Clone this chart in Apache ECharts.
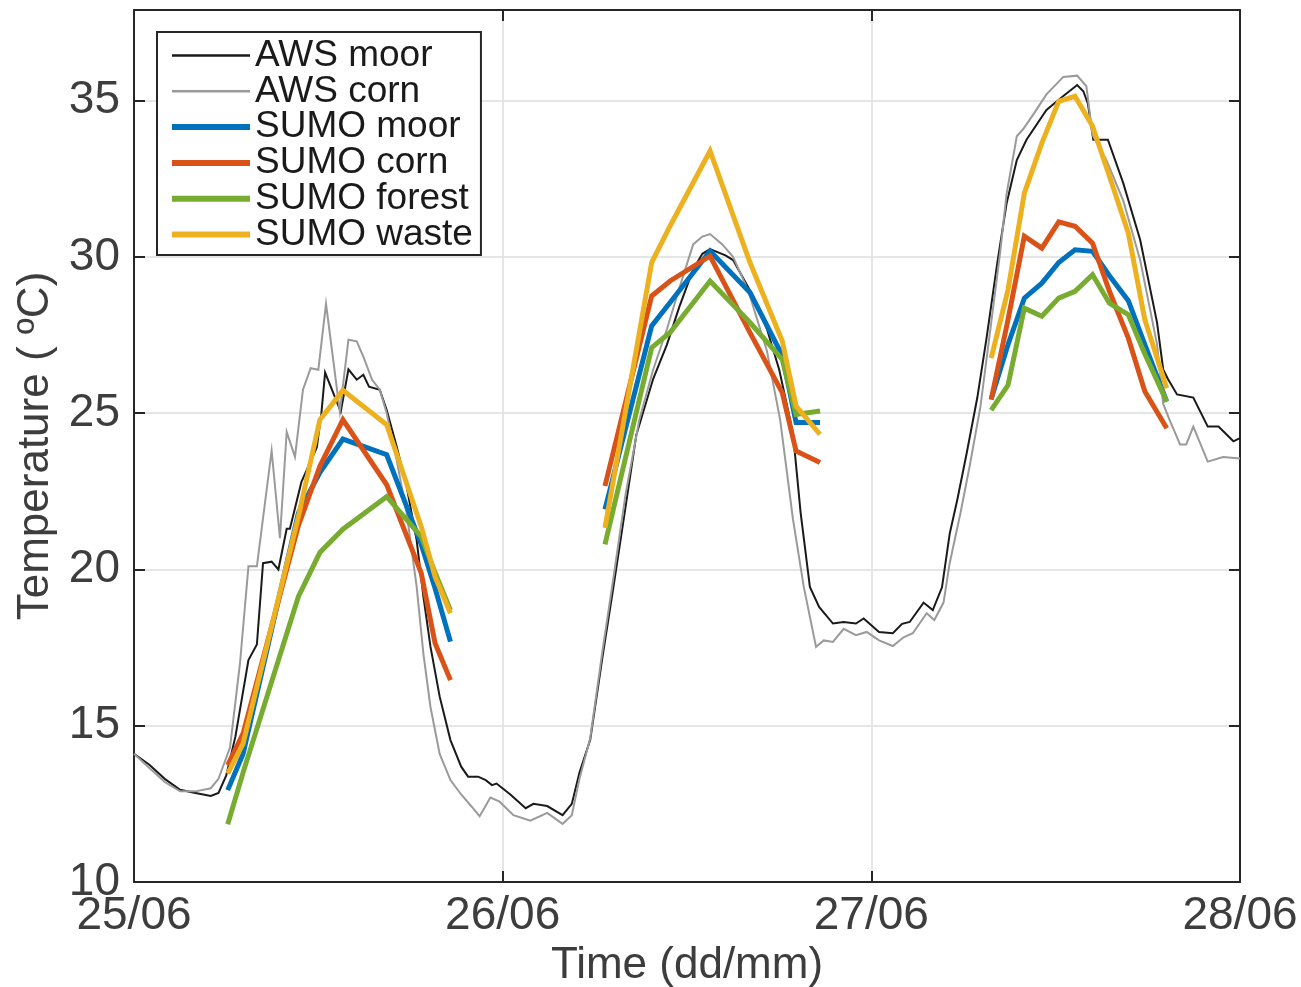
<!DOCTYPE html>
<html><head><meta charset="utf-8">
<script src="https://cdn.jsdelivr.net/npm/echarts@6/dist/echarts.min.js"></script>
<style>html,body{margin:0;padding:0;background:#fff}#c{width:1301px;height:987px}</style>
</head><body><div id="c"></div>
<script>
// x values are hours since 25/06 00:00
const dayLabels = ['25/06', '26/06', '27/06', '28/06'];
const yTicks = [10, 15, 20, 25, 30, 35];

const awsMoorTime = [0,1,2,3,4,5,5.5,6,6.6,7.45,8.0,8.4,8.96,9.4,9.94,10.15,10.9,11.9,12.2,12.44,13.46,13.96,14.5,14.93,15.3,16.0,16.45,17.1,17.75,18.4,18.84,19.3,19.9,20.6,21.3,21.75,22.4,22.9,23.3,23.6,24.5,25.5,26.0,26.9,27.9,28.5,29.0,29.7,30.5,31.2,32.0,32.7,33.8,34.7,35.5,36.4,37.0,37.5,38.5,39.0,40.3,41.2,42.0,42.9,43.4,44.0,44.6,45.5,46.2,47.0,47.5,48.5,49.4,50.0,50.5,51.4,52.0,52.6,53.1,53.6,54.2,54.9,55.5,56.2,56.8,57.47,58.1,59.4,60.5,61.4,61.8,62.1,62.45,63.4,64.4,65.5,66.6,67.0,67.3,67.9,68.96,69.9,70.6,71.57,72.0];
const awsMoorTemp = [14.1,13.75,13.3,12.95,12.85,12.75,12.85,13.4,14.65,17.1,17.6,20.2,20.25,20.0,21.3,21.3,22.8,23.9,25.0,26.3,25.05,26.4,26.07,26.23,25.85,25.75,25.1,23.93,22.65,20.94,19.13,17.53,15.93,14.54,13.69,13.37,13.37,13.26,13.1,13.15,12.8,12.36,12.5,12.43,12.14,12.5,13.5,14.55,17.2,19.4,22.0,24.3,26.1,27.2,28.4,29.6,30.1,30.25,30.05,29.9,28.75,27.7,26.4,24.36,21.8,19.44,18.8,18.27,18.32,18.27,18.43,18.0,17.96,18.26,18.32,18.94,18.7,19.43,21.14,22.24,23.7,25.5,27.4,29.8,31.7,33.1,33.75,34.7,35.15,35.5,35.3,34.9,33.75,33.75,32.36,30.55,27.9,26.4,26.1,25.6,25.5,24.57,24.57,24.1,24.2];

const awsCornTime = [0,1,2,3,4,5,5.5,6.25,6.9,7.45,8.0,8.96,9.5,9.94,10.48,11.0,11.5,12.0,12.5,13.4,13.96,14.5,14.93,15.5,16.0,16.45,17.1,17.75,18.4,18.84,19.3,19.9,20.6,21.3,22.0,22.5,23.2,23.8,24.7,25.8,26.9,27.9,28.5,29.0,29.7,30.5,31.2,32.0,32.9,33.8,34.7,35.5,36.4,37.0,37.5,38.3,39.0,40.0,41.2,42.06,42.9,43.6,44.4,44.9,45.5,46.2,47.0,47.7,48.5,49.4,50.1,50.7,51.6,52.1,52.7,53.1,53.8,54.4,55.1,55.7,56.4,56.8,57.47,57.9,58.6,59.4,60.5,61.4,62.0,62.4,63.3,64.4,65.5,66.6,67.0,67.4,68.1,68.5,68.96,69.9,70.9,72.0];
const awsCornTemp = [14.1,13.65,13.2,12.9,12.9,13.0,13.3,14.3,17.0,20.1,20.1,23.8,21.0,24.4,23.6,25.75,26.44,26.39,28.5,25.05,27.35,27.3,26.81,26.07,25.75,25.0,23.5,21.8,19.45,17.3,15.6,14.1,13.26,12.8,12.4,12.1,12.7,12.57,12.14,11.96,12.21,11.86,12.14,13.3,14.6,17.4,19.7,22.4,24.8,26.4,27.7,29.0,30.4,30.65,30.73,30.4,30.0,28.9,27.0,24.8,21.6,19.45,17.52,17.73,17.68,18.1,17.9,18.0,17.73,17.55,17.83,17.96,18.6,18.38,18.94,20.2,21.8,23.3,25.2,27.5,30.2,32.0,33.86,34.1,34.6,35.2,35.76,35.8,35.46,33.9,33.1,31.8,29.9,27.2,25.3,24.8,24.0,24.0,24.57,23.45,23.6,23.55];

// SUMO model output times for each day
const sumoTimeDay1 = [6.1, 7.1, 10.7, 12.1, 13.6, 16.45, 18.7, 19.6, 20.6];
const sumoTimeDay2 = [30.66, 33.7, 34.9, 37.5, 40.1, 42.2, 43.1, 44.66];
const sumoTimeDay3 = [55.8, 56.9, 57.96, 59.1, 60.2, 61.26, 62.4, 63.5, 64.73, 65.8, 67.23];

const sumoMoorDay1 = [12.94, 14.1, 21.8, 23.1, 24.17, 23.67, 20.8, 19.4, 17.69];
const sumoMoorDay2 = [21.92, 27.79, 28.54, 30.19, 28.86, 26.85, 24.70, 24.70];
const sumoMoorDay3 = [25.45, 27.2, 28.68, 29.16, 29.82, 30.23, 30.18, 29.4, 28.6, 27.2, 25.37];

const sumoCornDay1 = [13.74, 14.75, 21.4, 23.3, 24.79, 22.71, 19.88, 17.64, 16.46];
const sumoCornDay2 = [22.67, 28.75, 29.23, 30.03, 27.58, 25.66, 23.79, 23.42];
const sumoCornDay3 = [25.43, 28.0, 30.66, 30.28, 31.12, 30.98, 30.44, 28.9, 27.4, 25.7, 24.52];

const sumoForestDay1 = [11.85, 13.5, 19.13, 20.54, 21.29, 22.33, 21.05, 19.9, 18.7];
const sumoForestDay2 = [20.8, 27.1, 27.58, 29.23, 27.9, 26.72, 24.96, 25.07];
const sumoForestDay3 = [25.1, 25.9, 28.36, 28.1, 28.68, 28.9, 29.43, 28.52, 28.15, 26.9, 25.37];

const sumoWasteDay1 = [13.47, 14.43, 21.69, 24.79, 25.73, 24.63, 21.37, 19.77, 18.6];
const sumoWasteDay2 = [21.33, 29.82, 30.99, 33.39, 29.82, 27.31, 25.23, 24.32];
const sumoWasteDay3 = [26.76, 28.95, 32.04, 33.64, 34.98, 35.14, 34.18, 32.58, 30.76, 28.0, 25.8];

const zip = (t, v) => t.map((x, i) => [x, v[i]]);
const joinDays = (d1, d2, d3) => [].concat(
  zip(sumoTimeDay1, d1), [[null, null]],
  zip(sumoTimeDay2, d2), [[null, null]],
  zip(sumoTimeDay3, d3));

const FONT = '"Liberation Sans", Arial, Helvetica, sans-serif';
const AX = '#262626';
const TXT = '#3d3d3d';

const mkLine = (name, data, color, width) => ({
  name, type: 'line', data, symbol: 'none', showSymbol: false,
  connectNulls: false, animation: false,
  lineStyle: { color, width, join: 'miter' }, itemStyle: { color }
});

const series = [
  mkLine('AWS moor', zip(awsMoorTime, awsMoorTemp), '#1a1a1a', 2),
  mkLine('AWS corn', zip(awsCornTime, awsCornTemp), '#9a9a9a', 2),
  mkLine('SUMO moor', joinDays(sumoMoorDay1, sumoMoorDay2, sumoMoorDay3), '#0072BD', 5),
  mkLine('SUMO corn', joinDays(sumoCornDay1, sumoCornDay2, sumoCornDay3), '#D95319', 5),
  mkLine('SUMO forest', joinDays(sumoForestDay1, sumoForestDay2, sumoForestDay3), '#77AC30', 5),
  mkLine('SUMO waste', joinDays(sumoWasteDay1, sumoWasteDay2, sumoWasteDay3), '#EDB120', 5)
];

const chart = echarts.init(document.getElementById('c'), null, { renderer: 'canvas' });
chart.setOption({
  backgroundColor: '#fff',
  animation: false,
  textStyle: { fontFamily: FONT },
  grid: { left: 134, right: 61, top: 10, bottom: 105, containLabel: false, outerBoundsMode: 'none' },
  legend: {
    show: true, orient: 'vertical', left: 157, top: 32, z: 10,
    backgroundColor: '#fff', borderColor: AX, borderWidth: 2, borderRadius: 0,
    padding: [5, 8, 2, 12], itemGap: -1.2, itemWidth: 78, itemHeight: 10,
    textStyle: { fontSize: 37, color: '#1a1a1a', fontFamily: FONT },
    itemStyle: { opacity: 0 },
    data: series.map(s => ({ name: s.name, itemStyle: { opacity: 0 }, lineStyle: { width: s.lineStyle.width > 3 ? 6 : 2.5 } })),
    selectedMode: false
  },
  xAxis: [{
    type: 'value', min: 0, max: 72, interval: 24, position: 'bottom',
    axisLine: { show: true, onZero: false, lineStyle: { color: AX, width: 2 } },
    axisTick: { show: true, inside: true, length: 11, lineStyle: { color: AX, width: 2 } },
    axisLabel: { formatter: v => dayLabels[Math.round(v / 24)], fontSize: 46, color: TXT, margin: 11, fontFamily: FONT },
    splitLine: { show: true, lineStyle: { color: '#dedede', width: 1.5 } },
    name: 'Time (dd/mm)', nameLocation: 'middle', nameGap: 48,
    nameTextStyle: { fontSize: 44, color: TXT, fontFamily: FONT }
  }, {
    type: 'value', min: 0, max: 72, interval: 24, position: 'top',
    axisLine: { show: true, onZero: false, lineStyle: { color: AX, width: 2 } },
    axisTick: { show: true, inside: true, length: 11, lineStyle: { color: AX, width: 2 } },
    axisLabel: { show: false }, splitLine: { show: false }
  }],
  yAxis: [{
    type: 'value', min: 10, max: 37.9, interval: 5, position: 'left',
    axisLine: { show: true, onZero: false, lineStyle: { color: AX, width: 2 } },
    axisTick: { show: true, inside: true, length: 11, lineStyle: { color: AX, width: 2 } },
    axisLabel: { formatter: v => (yTicks.indexOf(v) >= 0 ? String(v) : ''), showMaxLabel: false, fontSize: 46, color: TXT, margin: 14, fontFamily: FONT },
    splitLine: { show: true, lineStyle: { color: '#dedede', width: 1.5 } },
    name: 'Temperature ( ºC)', nameLocation: 'middle', nameGap: 72, nameRotate: 90,
    nameTextStyle: { fontSize: 44, color: TXT, fontFamily: FONT }
  }, {
    type: 'value', min: 10, max: 37.9, interval: 5, position: 'right',
    axisLine: { show: true, onZero: false, lineStyle: { color: AX, width: 2 } },
    axisTick: { show: true, inside: true, length: 11, lineStyle: { color: AX, width: 2 } },
    axisLabel: { show: false }, splitLine: { show: false }
  }],
  series
});
</script>
</body></html>
